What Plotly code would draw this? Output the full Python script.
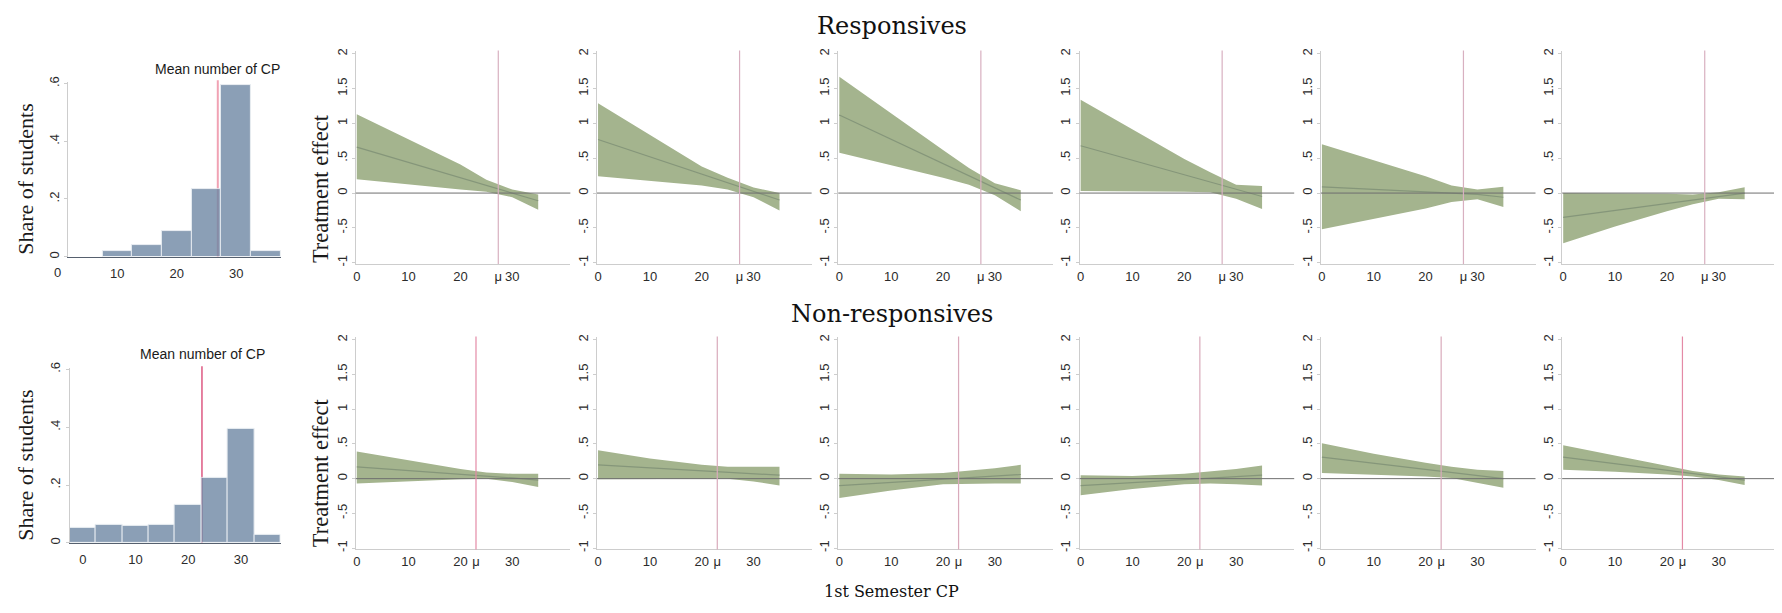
import plotly.graph_objects as go

# target screen size; the page body keeps the browser's default 8px margin
SW, SH = 1782, 613
OFF = 8
W, H = SW - 2 * OFF, SH - 2 * OFF

# ---------------- data ----------------
# histograms: share of students by 1st-semester CP (bin width 5)
top_hist_bins = [10, 15, 20, 25, 30, 35]
top_hist_share = [0.018, 0.041, 0.089, 0.234, 0.594, 0.018]
top_hist_mean = 26.9

bot_hist_bins = [0, 5, 10, 15, 20, 25, 30, 35]
bot_hist_share = [0.051, 0.061, 0.057, 0.061, 0.130, 0.223, 0.395, 0.028]
bot_hist_mean = 22.6

# treatment-effect panels, evaluated at these CP values
cp_grid = [0, 10, 20, 25, 30, 35]

resp_mu = 27.3
resp_mid = [
    [0.66, 0.44, 0.22, 0.11, 0.00, -0.11],
    [0.77, 0.52, 0.27, 0.15, 0.02, -0.10],
    [1.12, 0.77, 0.42, 0.25, 0.07, -0.10],
    [0.68, 0.47, 0.26, 0.16, 0.05, -0.05],
    [0.09, 0.05, 0.02, 0.00, -0.02, -0.06],
    [-0.35, -0.25, -0.15, -0.10, -0.05, 0.00],
]
resp_hi = [
    [1.13, 0.77, 0.41, 0.19, 0.05, -0.02],
    [1.29, 0.83, 0.38, 0.22, 0.08, 0.00],
    [1.67, 1.14, 0.62, 0.36, 0.14, 0.04],
    [1.34, 0.91, 0.49, 0.30, 0.12, 0.10],
    [0.70, 0.47, 0.24, 0.11, 0.05, 0.09],
    [0.00, 0.00, -0.01, -0.02, 0.01, 0.085],
]
resp_lo = [
    [0.20, 0.12, 0.05, 0.02, -0.06, -0.24],
    [0.24, 0.18, 0.11, 0.05, -0.06, -0.25],
    [0.58, 0.40, 0.22, 0.12, -0.03, -0.26],
    [0.03, 0.03, 0.02, 0.01, -0.08, -0.23],
    [-0.52, -0.37, -0.22, -0.13, -0.09, -0.20],
    [-0.72, -0.48, -0.26, -0.16, -0.08, -0.09],
]

nonresp_mu = 23.0
nonresp_mid = [
    [0.17, 0.12, 0.06, 0.035, 0.01, -0.02],
    [0.20, 0.16, 0.11, 0.09, 0.07, 0.05],
    [-0.10, -0.055, -0.01, 0.015, 0.04, 0.06],
    [-0.10, -0.057, -0.014, 0.007, 0.03, 0.05],
    [0.31, 0.22, 0.13, 0.09, 0.04, 0.00],
    [0.31, 0.216, 0.12, 0.075, 0.03, -0.02],
]
nonresp_hi = [
    [0.39, 0.26, 0.14, 0.09, 0.07, 0.07],
    [0.41, 0.29, 0.20, 0.17, 0.17, 0.17],
    [0.07, 0.06, 0.08, 0.11, 0.15, 0.20],
    [0.05, 0.04, 0.07, 0.10, 0.14, 0.19],
    [0.51, 0.36, 0.23, 0.17, 0.13, 0.11],
    [0.48, 0.33, 0.18, 0.11, 0.06, 0.03],
]
nonresp_lo = [
    [-0.07, -0.04, -0.01, 0.00, -0.05, -0.12],
    [-0.01, 0.00, 0.00, 0.00, -0.04, -0.10],
    [-0.28, -0.17, -0.08, -0.07, -0.07, -0.07],
    [-0.24, -0.15, -0.08, -0.07, -0.08, -0.10],
    [0.08, 0.06, 0.03, 0.01, -0.06, -0.13],
    [0.13, 0.10, 0.06, 0.03, -0.02, -0.09],
]

row_titles = ["Responsives", "Non-responsives"]
x_title = "1st Semester CP"
y_title_panel = "Treatment effect"
y_title_hist = "Share of students"
mean_label = "Mean number of CP"

# ---------------- styling ----------------
TICK_FONT = dict(family="Liberation Sans Narrow, Arial Narrow, Liberation Sans, Arial", size=13, color="#2b2b2b")
SERIF_T = "Liberation Serif, Times New Roman, serif"
SERIF_D = "DejaVu Serif, Georgia, serif"
BAND = "#a4b48e"
MIDLINE = "#85967a"
AXIS = "#cdcdcd"
ZERO = "#6f6f6f"
BAR = "rgb(111,136,164)"


def px(x):
    return min(max((x - OFF) / W, 0.0), 1.0)


def py(y):
    return min(max((H - (y - OFF)) / H, 0.0), 1.0)


def xdom(p0, p1):
    return [px(p0), px(p1)]


def ydom(top, bottom):
    return [py(bottom), py(top)]


fig = go.Figure()
layout = {}
shapes = []
annotations = []


def add_axes(k, xd, yd, xr, yr, xticks, xtext, yticks, ytext, xline_color=AXIS, xstand=0):
    sx = "" if k == 1 else str(k)
    layout["xaxis" + sx] = dict(
        domain=xd, range=xr, anchor="y" + sx, showgrid=False, zeroline=False,
        showline=True, linecolor=xline_color, linewidth=1, ticks="",
        tickvals=xticks, ticktext=xtext, tickangle=0, tickfont=TICK_FONT,
        ticklabelstandoff=xstand, fixedrange=True,
    )
    layout["yaxis" + sx] = dict(
        domain=yd, range=yr, anchor="x" + sx, showgrid=False, zeroline=False,
        showline=True, linecolor=AXIS, linewidth=1, ticks="outside", ticklen=3,
        tickcolor=AXIS, tickvals=yticks, ticktext=ytext, tickangle=-90,
        tickfont=TICK_FONT, ticklabelstandoff=0, fixedrange=True,
    )
    return "x" + sx, "y" + sx


# ---------------- histograms ----------------
hist_specs = [
    (1, top_hist_bins, top_hist_share, top_hist_mean, (65, 278.3), (77, 254), [1.7, 37.5],
     [10, 20, 30], "#f1a3b4", 2, (215, 64)),
    (2, bot_hist_bins, bot_hist_share, bot_hist_mean, (66.7, 278), (366.7, 544), [-2.5, 37.5],
     [0, 10, 20, 30], "#d42f62", 1.2, (200, 353)),
]
for k, bins, share, mean, (xl, xr_), (yt, yb), xrange_, xt, mcol, mw, (lx, ly) in hist_specs:
    xa, ya = add_axes(k, xdom(xl, xr_), ydom(yt, yb), xrange_, [0, 0.6 + 0.6 * 1.5 / 176],
                      xt, [str(v) for v in xt], [0, 0.2, 0.4, 0.6], ["0", ".2", ".4", ".6"],
                      xline_color="#56606e", xstand=5)
    fig.add_trace(go.Bar(x=bins, y=share, width=5, xaxis=xa, yaxis=ya,
                         marker=dict(color=BAR, opacity=0.8, line=dict(color="#e4e9ef", width=1)),
                         showlegend=False, hoverinfo="skip"))
    shapes.append(dict(type="line", xref=xa, yref=ya + " domain", x0=mean, x1=mean, y0=0, y1=1.01,
                       line=dict(color=mcol, width=mw), layer="below"))
    annotations.append(dict(text=mean_label, x=px(lx), y=py(ly), xref="paper", yref="paper",
                            xanchor="center", yanchor="middle", showarrow=False,
                            font=dict(family=TICK_FONT["family"], size=14, color="#1a1a1a")))
    annotations.append(dict(text=y_title_hist, x=px(23), y=py(175 if k == 1 else 465),
                            xref="paper", yref="paper", textangle=-90, showarrow=False,
                            xanchor="center", yanchor="middle",
                            font=dict(family=SERIF_T, size=22, color="#1a1a1a")))

# "0" label of the top histogram sits left of where its axis starts
annotations.append(dict(text="0", x=px(54.5), y=py(270), xref="paper", yref="paper",
                        xanchor="center", yanchor="middle", showarrow=False, font=TICK_FONT))

# ---------------- treatment-effect panels ----------------
PANEL_W = 215.0
X_SPAN = 41.4
rows = [
    (resp_mid, resp_lo, resp_hi, resp_mu, (45, 261.5), ["#d8b0c0"] * 6, 185),
    (nonresp_mid, nonresp_lo, nonresp_hi, nonresp_mu, (335, 550.7),
     ["#e48aa6", "#d9aabb", "#d9aabb", "#d9aabb", "#d9aabb", "#e48aa6"], 473),
]
k = 3
for mids, los, his, mu, (yt, yb), mucols, ytc in rows:
    for i in range(6):
        left = 353.3 + 241.7 * i
        right = min(left + PANEL_W, OFF + W)
        xr_right = -0.2 + (right - left) / PANEL_W * X_SPAN
        xa, ya = add_axes(k, xdom(left, right), ydom(yt, yb), [-0.2, xr_right], [-1.02, 2.047],
                          [0, 10, 20, 30, mu], ["0", "10", "20", "30", "μ"],
                          [-1, -0.5, 0, 0.5, 1, 1.5, 2], ["-1", "-.5", "0", ".5", "1", "1.5", "2"])
        fig.add_trace(go.Scatter(x=cp_grid + cp_grid[::-1], y=his[i] + los[i][::-1],
                                 fill="toself", fillcolor=BAND, line=dict(width=0),
                                 mode="lines", xaxis=xa, yaxis=ya, showlegend=False, hoverinfo="skip"))
        fig.add_trace(go.Scatter(x=cp_grid, y=mids[i], mode="lines",
                                 line=dict(color=MIDLINE, width=1.2),
                                 xaxis=xa, yaxis=ya, showlegend=False, hoverinfo="skip"))
        shapes.append(dict(type="line", xref=xa + " domain", yref=ya, x0=0, x1=1, y0=0, y1=0,
                           line=dict(color=ZERO, width=1), layer="above"))
        shapes.append(dict(type="line", xref=xa, yref=ya + " domain", x0=mu, x1=mu, y0=0, y1=1,
                           line=dict(color=mucols[i], width=1.2), layer="above"))
        k += 1
    annotations.append(dict(text=y_title_panel, x=px(318), y=py(ytc), xref="paper", yref="paper",
                            textangle=-90, showarrow=False, xanchor="center", yanchor="middle",
                            font=dict(family=SERIF_T, size=22.5, color="#1a1a1a")))

# row titles and x title
for txt, yc in zip(row_titles, [20, 312.5]):
    annotations.append(dict(text=txt, x=px(890), y=py(yc), xref="paper", yref="paper",
                            xanchor="center", yanchor="middle", showarrow=False,
                            font=dict(family=SERIF_D, size=24, color="#111111")))
annotations.append(dict(text=x_title, x=px(890), y=0, xref="paper", yref="paper",
                        xanchor="center", yanchor="bottom", showarrow=False,
                        font=dict(family=SERIF_D, size=16, color="#111111")))

fig.update_layout(
    width=W, height=H, margin=dict(l=0, r=0, t=0, b=0),
    paper_bgcolor="white", plot_bgcolor="white",
    shapes=shapes, annotations=annotations, showlegend=False, bargap=0,
    **layout,
)
fig.write_html("out.html")
